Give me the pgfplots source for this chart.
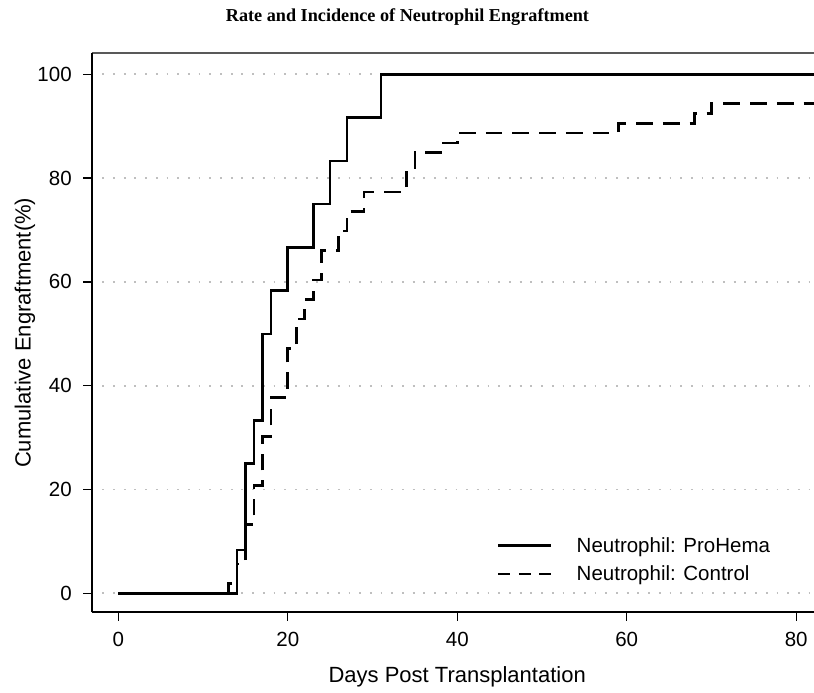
\documentclass[border=0pt]{standalone}
\usepackage{fontspec}
\setmainfont{Liberation Sans}
\newfontfamily\titlefont{Liberation Serif}
\usepackage{pgfplots}
\pgfplotsset{compat=1.18}

\begin{document}
\begin{tikzpicture}
\useasboundingbox (-91.7pt,-80.7pt) rectangle (722.3pt,612.3pt);
\begin{axis}[
  name=ax, at={(0pt,0pt)}, anchor=south west,
  scale only axis, width=722.3pt, height=559pt,
  xmin=-3.14, xmax=82.1, ymin=-3.66, ymax=104.05,
  axis line style={draw=none},
  xtick={0,20,40,60,80}, ytick={0,20,40,60,80,100},
  tick align=outside, xtick pos=left, ytick pos=left,
  major tick length=8.5pt,
  tick style={black, line width=1.3pt},
  ymajorgrids,
  major grid style={gray!50, line width=1.8pt, dash pattern=on 1.8pt off 8.9pt},
  /pgf/number format/assume math mode=true,
  tick label style={font=\fontsize{20.5}{24}\selectfont},
  yticklabel style={xshift=-8pt},
  xticklabel style={yshift=-8pt},
  xlabel={Days Post Transplantation},
  ylabel={Cumulative Engraftment(\%)},
  label style={font=\fontsize{22}{26}\selectfont},
  xlabel style={at={(axis description cs:0.506,-0.1157)}, anchor=center},
  ylabel style={at={(axis description cs:-0.0923,0.5)}, anchor=center},
  legend style={draw=none, fill=none, at={(axis description cs:0.561,0.1376)}, anchor=north west,
    font=\fontsize{20.5}{24}\selectfont, row sep=8pt, inner sep=0pt,
    /tikz/every odd column/.append style={column sep=22pt}},
  legend image code/.code={\draw[#1] (0pt,0pt) -- (53pt,0pt);},
  legend cell align=left,
]
\addlegendimage{black, line width=2.6pt}
\addlegendentry{Neutrophil: ProHema}
\addlegendimage{black, line width=2.6pt, dash pattern=on 12pt off 8.5pt}
\addlegendentry{Neutrophil: Control}
\addplot[const plot, black, line width=2.6pt, forget plot] coordinates {
  (0,0) (14,8.33) (15,25) (16,33.33) (17,50) (18,58.33) (20,66.67)
  (23,75) (25,83.33) (27,91.67) (31,100) (84,100)};
\addplot[const plot, black, line width=2.6pt, dash pattern=on 16.7pt off 10pt, forget plot] coordinates {
  (0,0) (13,1.89) (14,5.66) (15,13.21) (16,20.75) (17,30.19) (18,37.74)
  (20,47.17) (21,52.83) (22,56.60) (23,60.38) (24,66.04) (26,69.81)
  (27,73.58) (29,77.36) (34,81.13) (35,84.91) (38,86.79) (40,88.68)
  (59,90.57) (68,92.45) (70,94.34) (84,94.34)};
\end{axis}
\draw[line width=2.4pt, black!65] (ax.north west) -- (ax.north east);
\draw[line width=1.8pt, black] (ax.south west) -- (ax.south east);
\draw[line width=1.8pt, black] (ax.south west) -- (ax.north west);
\node[font=\titlefont\bfseries\fontsize{18.2}{20}\selectfont] at (315.8pt,595.3pt)
  {Rate and Incidence of Neutrophil Engraftment};
\end{tikzpicture}
\end{document}
